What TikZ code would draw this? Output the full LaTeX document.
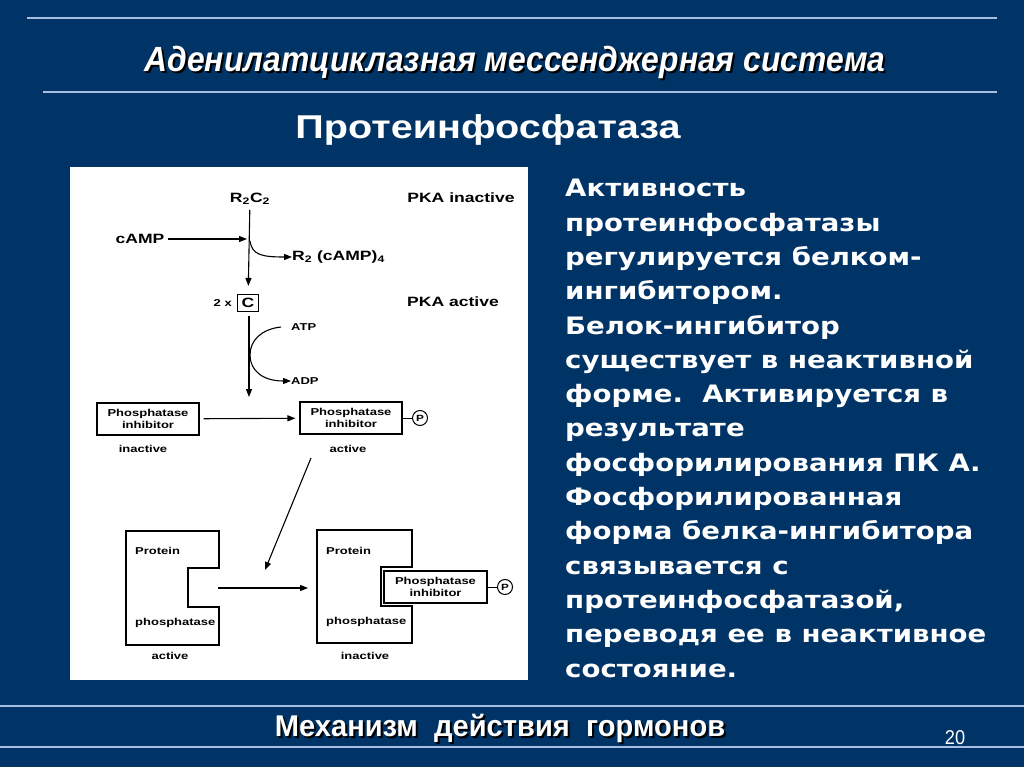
\documentclass[tikz,border=0pt]{standalone}
\usepackage{fontspec}
\setmainfont{Liberation Sans}
\newfontfamily\narrowfont[FakeStretch=0.91]{Liberation Sans}
\newfontfamily\widefont[FakeStretch=1.2]{Liberation Sans}
\newfontfamily\footfont[FakeStretch=0.97]{Liberation Sans}
\newfontfamily\diagfont[FakeStretch=1.3]{Liberation Sans}
\newfontfamily\heavyfont[FakeStretch=1.15]{DejaVu Sans}
\usetikzlibrary{arrows.meta,positioning,calc}
\definecolor{slidebg}{RGB}{0,51,102}
\definecolor{rulecol}{RGB}{165,190,225}

\tikzset{
  biglbl/.style={font=\diagfont\bfseries\fontsize{13.5}{14}\selectfont, inner sep=0pt},
  smalllbl/.style={font=\diagfont\bfseries\fontsize{10}{11.5}\selectfont, inner sep=0pt, align=center},
  inhbox/.style={draw, line width=1.1pt, smalllbl, minimum width=102, minimum height=32},
  pcircle/.style={draw, circle, line width=1pt, inner sep=0pt, minimum size=15,
    font=\diagfont\bfseries\fontsize{9}{9}\selectfont},
  arr/.style={-{Triangle[length=8pt,width=6pt]}, line width=1.1pt},
  enzyme/.style={line width=1.1pt},
  rulel/.style={rulecol, line width=1.6pt},
}

\begin{document}
\begin{tikzpicture}[x=1pt,y=-1pt]
\fill[slidebg] (0,0) rectangle (1024,767);
\useasboundingbox (0,0) rectangle (1024,767);

\draw[rulel] (27,18) -- (997,18);
\draw[rulel] (43,92) -- (997,92);
\draw[rulel] (0,706) -- (1024,706);
\draw[rulel] (0,747) -- (1024,747);

\node[black, font=\narrowfont\bfseries\itshape\fontsize{35}{37}\selectfont] (titleS) at (517,64) {Аденилатциклазная мессенджерная система};
\node[white, font=\narrowfont\bfseries\itshape\fontsize{35}{37}\selectfont] (title) at (515,62) {Аденилатциклазная мессенджерная система};
\node[white, font=\widefont\bfseries\fontsize{33}{34}\selectfont] (subtitle) at (488,130) {Протеинфосфатаза};

\node[black, font=\footfont\bfseries\fontsize{30}{32}\selectfont] (footS) at (502,730) {Механизм\ \ действия\ \ гормонов};
\node[white, font=\footfont\bfseries\fontsize{30}{32}\selectfont] (foot) at (500,728) {Механизм\ \ действия\ \ гормонов};
\node[white, font=\narrowfont\fontsize{20}{22}\selectfont] (pagenum) at (955,738) {20};

\node[white, anchor=base west, inner sep=0pt, align=left,
      font=\heavyfont\bfseries\fontsize{24}{34.3}\selectfont] (body) at (565,677)
  {Активность\\
   протеинфосфатазы\\
   регулируется белком-\\
   ингибитором.\\
   Белок-ингибитор\\
   существует в неактивной\\
   форме.\ \ Активируется в\\
   результате\\
   фосфорилирования ПК А.\\
   Фосфорилированная\\
   форма белка-ингибитора\\
   связывается с\\
   протеинфосфатазой,\\
   переводя ее в неактивное\\
   состояние.};

\fill[white] (70,167) rectangle (528,680);

\coordinate (hitA) at (247,239);
\coordinate (bendA) at (250,241);
\coordinate (bendB) at (250,355);
\coordinate (diagS) at (311,458);
\coordinate (diagE) at (265,570);
\coordinate (bindS) at (218,588);
\coordinate (bindE) at (308,588);

\node[biglbl] (r2c2) at (250,199) {R\textsubscript{2}C\textsubscript{2}};
\node[biglbl] (pkaI) at (461,198) {PKA inactive};
\node[biglbl] (camp) at (140,239) {cAMP};
\node[biglbl, anchor=west] (r2camp) at (292,257) {R\textsubscript{2} (cAMP)\textsubscript{4}};
\node[draw, line width=1.1pt, biglbl, minimum width=21, minimum height=17] (cbox) at (248,303) {C};
\node[smalllbl, left=5pt of cbox] (two) {2 x};
\node[biglbl] (pkaA) at (453,302) {PKA active};
\node[smalllbl, anchor=west] (atp) at (291,327) {ATP};
\node[smalllbl, anchor=west] (adp) at (291,381) {ADP};

\draw[arr, shorten <=5pt, shorten >=8pt] (r2c2) -- (cbox);
\draw[arr] (camp.east) ++(3,0) -- (hitA);
\draw[arr] (bendA) .. controls (252,255) and (262,257) .. (r2camp.west);
\draw[arr, shorten <=4pt] (cbox.south) ++(1,0) -- (249,397);
\draw[line width=1.1pt] (atp.west) ++(-10,0) .. controls (262,329) and (250,340) .. (bendB);
\draw[arr] (bendB) .. controls (250,370) and (262,381) .. (adp.west);

\node[inhbox] (inhA) at (148,419) {Phosphatase\\inhibitor};
\node[inhbox] (inhB) at (351,418) {Phosphatase\\inhibitor};
\node[pcircle] (pB) at (420,418) {P};
\draw[line width=1pt] (inhB) -- (pB);
\node[smalllbl] (inactA) at (143,449) {inactive};
\node[smalllbl] (actB) at (348,449) {active};
\draw[arr, shorten <=4pt, shorten >=4pt] (inhA) -- (inhB);
\draw[arr] (diagS) -- (diagE);

\draw[enzyme] (126,531) -- (219,531) -- (219,568) -- (188,568) -- (188,607)
  -- (219,607) -- (219,645) -- (126,645) -- cycle;
\draw[enzyme] (317,530) -- (412,530) -- (412,567) -- (381,567) -- (381,606)
  -- (412,606) -- (412,643) -- (317,643) -- cycle;
\node[smalllbl, anchor=west] (protA) at (135,551) {Protein};
\node[smalllbl, anchor=west] (phosA) at (135,623) {phosphatase};
\node[smalllbl] (actA) at (170,656) {active};
\node[smalllbl, anchor=west] (protB) at (326,551) {Protein};
\node[smalllbl, anchor=west] (phosB) at (326,622) {phosphatase};
\node[smalllbl] (inactB) at (365,656) {inactive};
\node[inhbox, minimum width=103] (inhC) at (435.5,587) {Phosphatase\\inhibitor};
\node[pcircle] (pC) at (505,587) {P};
\draw[line width=1pt] (inhC) -- (pC);
\draw[arr] (bindS) -- (bindE);
\end{tikzpicture}
\end{document}
